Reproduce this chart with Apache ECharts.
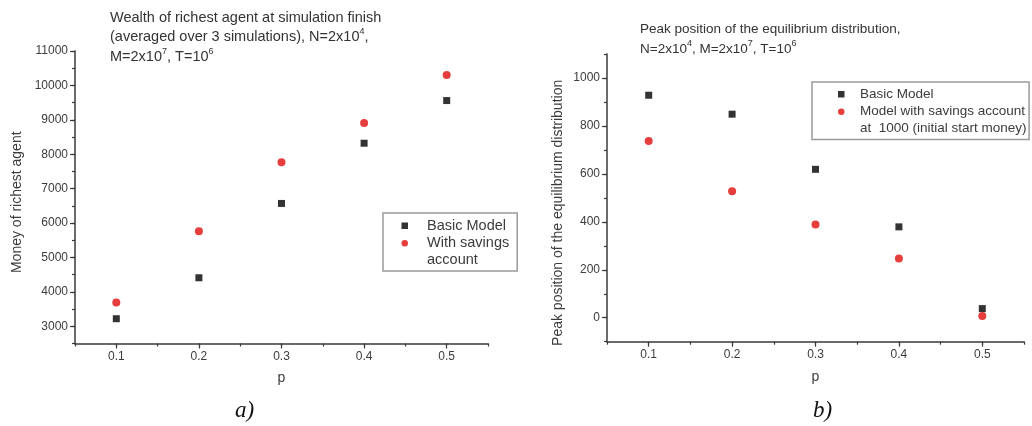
<!DOCTYPE html>
<html>
<head>
<meta charset="utf-8">
<script src="https://cdn.jsdelivr.net/npm/echarts@6/dist/echarts.min.js"></script>
<style>
  html, body { margin: 0; padding: 0; background: #fff; }
  #chart { width: 1032px; height: 426px; }
</style>
</head>
<body>
<div id="chart"></div>
<script>
// Probability p of an agent putting money into savings
const pValues = [0.1, 0.2, 0.3, 0.4, 0.5];

// a) Wealth of richest agent at simulation finish
const richestBasic = [3220, 4410, 6570, 8320, 9560];
const richestSavings = [3690, 5760, 7770, 8910, 10300];

// b) Peak position of the equilibrium distribution
const peakBasic = [928, 849, 619, 379, 38];
const peakSavings = [737, 528, 389, 247, 7];

// Labelled (major) tick values
const pTicks = [0.1, 0.2, 0.3, 0.4, 0.5];
const moneyTicks = [3000, 4000, 5000, 6000, 7000, 8000, 9000, 10000, 11000];
const peakTicks = [0, 200, 400, 600, 800, 1000];

const seriesNames = ['Basic Model', 'With savings', 'Model with savings account'];
const legendContinuation = ['account', 'at  1000 (initial start money)'];

const FONT = '"Liberation Sans", Arial, sans-serif';
const AXIS_COLOR = '#3a3a3a';
const TEXT_COLOR = '#3c3c3c';
const RED = '#e00c0c';

const pairs = (xs, ys) => xs.map((x, i) => [x, ys[i]]);

// Minor-tick axis: carries the line, the short ticks and the data
function minorAxis(gridIndex, position, min, max, step) {
  return {
    type: 'value', gridIndex, position, offset: 0, min, max, interval: step,
    axisLine: { show: true, onZero: false, lineStyle: { color: AXIS_COLOR, width: 1.5 } },
    axisTick: { show: true, inside: false, length: 3, lineStyle: { color: AXIS_COLOR, width: 1.2 } },
    axisLabel: { show: false },
    splitLine: { show: false }
  };
}

// Major-tick axis: same scale and place, longer ticks and the labels
function majorAxis(gridIndex, position, min, max, ticks, fmt, extra) {
  return Object.assign({
    type: 'value', gridIndex, position, offset: 0, min, max,
    axisLine: { show: false, onZero: false },
    axisTick: { show: true, inside: false, length: 5, customValues: ticks,
                lineStyle: { color: AXIS_COLOR, width: 1.2 } },
    axisLabel: { fontFamily: FONT, fontSize: 12, color: TEXT_COLOR, margin: 7,
                 customValues: ticks, formatter: fmt },
    splitLine: { show: false }
  }, extra || {});
}

function pName() {
  return {
    name: 'p', nameLocation: 'middle', nameGap: 28,
    nameTextStyle: { fontFamily: FONT, fontSize: 14, color: TEXT_COLOR }
  };
}

function yName(name, gap, pad) {
  return {
    name, nameLocation: 'middle', nameGap: gap, nameRotate: 90,
    nameTextStyle: { fontFamily: FONT, fontSize: 14, color: TEXT_COLOR, padding: pad }
  };
}

const supRich = {
  sup: { fontSize: 9, verticalAlign: 'top', fontFamily: FONT, color: '#333' }
};

const option = {
  backgroundColor: '#fff',
  animation: false,
  title: [
    {
      left: 110, top: 8, padding: 0,
      text: 'Wealth of richest agent at simulation finish\n' +
            '(averaged over 3 simulations), N=2x10{sup|4},\n' +
            'M=2x10{sup|7}, T=10{sup|6}',
      textStyle: { fontFamily: FONT, fontSize: 14.5, fontWeight: 'normal', color: '#333', lineHeight: 19.5, rich: supRich }
    },
    {
      left: 640, top: 19.5, padding: 0,
      text: 'Peak position of the equilibrium distribution,\n' +
            'N=2x10{sup|4}, M=2x10{sup|7}, T=10{sup|6}',
      textStyle: { fontFamily: FONT, fontSize: 13.5, fontWeight: 'normal', color: '#333', lineHeight: 20, rich: supRich }
    }
  ],
  grid: [
    { left: 75, top: 51, width: 413, height: 292.5, containLabel: false, outerBoundsMode: 'none' },
    { left: 607, top: 54, width: 417, height: 287.7, containLabel: false, outerBoundsMode: 'none' }
  ],
  xAxis: [
    minorAxis(0, 'bottom', 0.05, 0.55, 0.05),
    majorAxis(0, 'bottom', 0.05, 0.55, pTicks, v => v.toFixed(1), pName()),
    minorAxis(1, 'bottom', 0.05, 0.55, 0.05),
    majorAxis(1, 'bottom', 0.05, 0.55, pTicks, v => v.toFixed(1), pName())
  ],
  yAxis: [
    minorAxis(0, 'left', 2500, 11000, 500),
    majorAxis(0, 'left', 2500, 11000, moneyTicks, v => String(v),
              yName('Money of richest agent', 51, [0, 10, 0, 0])),
    minorAxis(1, 'left', -100, 1100, 100),
    majorAxis(1, 'left', -100, 1100, peakTicks, v => String(v),
              yName('Peak position of the equilibrium distribution', 42, [0, 30, 0, 0]))
  ],
  legend: [
    {
      left: 383, top: 213, orient: 'vertical',
      padding: [4, 8, 19, 18.5], itemGap: 0, itemWidth: 6.5, itemHeight: 6.5,
      borderColor: '#9a9a9a', borderWidth: 1.5, borderRadius: 0,
      textStyle: { fontFamily: FONT, fontSize: 14.5, color: TEXT_COLOR, lineHeight: 17.5, padding: [0, 0, 0, 14] },
      data: [{ name: seriesNames[0], icon: 'rect' }, { name: seriesNames[1], icon: 'circle' }],
      selectedMode: false
    },
    {
      left: 812, top: 82, orient: 'vertical',
      padding: [3.5, 4, 19, 26], itemGap: 0, itemWidth: 6.5, itemHeight: 6.5,
      borderColor: '#9a9a9a', borderWidth: 1.5, borderRadius: 0,
      textStyle: { fontFamily: FONT, fontSize: 13.5, color: TEXT_COLOR, lineHeight: 17.5, padding: [0, 0, 0, 10.5] },
      data: [{ name: seriesNames[0], icon: 'rect' }, { name: seriesNames[2], icon: 'circle' }],
      selectedMode: false
    }
  ],
  graphic: [
    { type: 'text', left: 427, top: 252.5,
      style: { text: legendContinuation[0], font: '14.5px ' + FONT, fill: TEXT_COLOR } },
    { type: 'text', left: 860, top: 121,
      style: { text: legendContinuation[1], font: '13.5px ' + FONT, fill: TEXT_COLOR } },
    { type: 'text', left: 235, top: 399,
      style: { text: 'a)', font: 'italic 23px "Liberation Serif", "Times New Roman", serif', fill: '#111' } },
    { type: 'text', left: 813, top: 399,
      style: { text: 'b)', font: 'italic 23px "Liberation Serif", "Times New Roman", serif', fill: '#111' } }
  ],
  series: [
    { name: seriesNames[0], type: 'scatter', xAxisIndex: 0, yAxisIndex: 0,
      symbol: 'rect', symbolSize: 7, itemStyle: { color: '#000' },
      data: pairs(pValues, richestBasic) },
    { name: seriesNames[1], type: 'scatter', xAxisIndex: 0, yAxisIndex: 0,
      symbol: 'circle', symbolSize: 8, itemStyle: { color: RED },
      data: pairs(pValues, richestSavings) },
    { name: seriesNames[0], type: 'scatter', xAxisIndex: 2, yAxisIndex: 2,
      symbol: 'rect', symbolSize: 7, itemStyle: { color: '#000' },
      data: pairs(pValues, peakBasic) },
    { name: seriesNames[2], type: 'scatter', xAxisIndex: 2, yAxisIndex: 2,
      symbol: 'circle', symbolSize: 8, itemStyle: { color: RED },
      data: pairs(pValues, peakSavings) }
  ]
};

const chart = echarts.init(document.getElementById('chart'), null, { renderer: 'canvas' });
chart.setOption(option);
</script>
</body>
</html>
